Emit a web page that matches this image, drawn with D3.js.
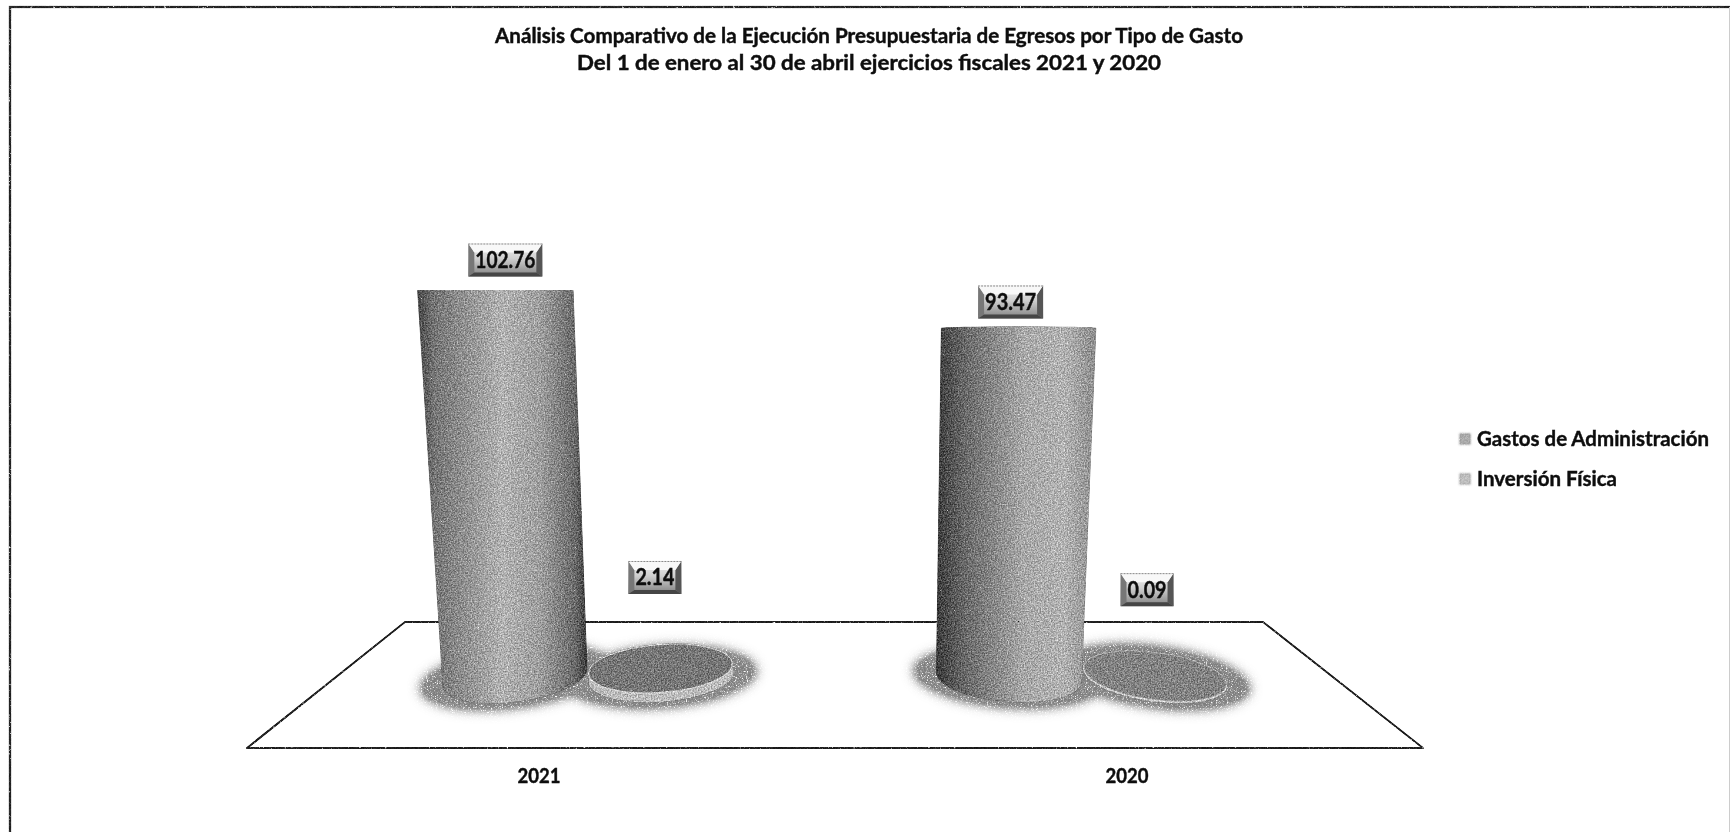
<!DOCTYPE html>
<html>
<head>
<meta charset="utf-8">
<script src="https://cdn.jsdelivr.net/npm/d3@7/dist/d3.min.js"></script>
<style>
html, body { margin: 0; padding: 0; background: #fff; overflow: hidden; }
svg { display: block; }
text { font-family: Lato, "Open Sans", sans-serif; font-weight: 700; fill: #0c0c0c; stroke: #0c0c0c; stroke-width: 0.4px; }
</style>
</head>
<body>
<div id="chart"></div>
<script>
var titleLines = [
    "Análisis Comparativo de la Ejecución Presupuestaria de Egresos por Tipo de Gasto",
    "Del 1 de enero al 30 de abril ejercicios fiscales 2021 y 2020"
];
var categories = ["2021", "2020"];
var seriesNames = ["Gastos de Administración", "Inversión Física"];
var gastosValues = [102.76, 93.47];
var inversionValues = [2.14, 0.09];

var width = 1730, height = 832;
var svg = d3.select("#chart").append("svg").attr("width", width).attr("height", height);
var defs = svg.append("defs");

// scan look: noise on the tone, a little on the alpha so the edges crumble
function grain(id, freq, amp, alphaK, alphaOff, blur) {
    var f = defs.append("filter").attr("id", id)
        .attr("x", "-15%").attr("y", "-15%").attr("width", "130%").attr("height", "130%")
        .attr("color-interpolation-filters", "sRGB");
    f.append("feTurbulence").attr("type", "fractalNoise").attr("baseFrequency", freq)
        .attr("numOctaves", 2).attr("seed", 4).attr("result", "n");
    f.append("feColorMatrix").attr("in", "n").attr("type", "matrix")
        .attr("values", "1 0 0 0 0 1 0 0 0 0 1 0 0 0 0 0 0 0 0 1").attr("result", "tone");
    f.append("feColorMatrix").attr("in", "n").attr("type", "matrix")
        .attr("values", "0 0 0 0 0 0 0 0 0 0 0 0 0 0 0 " + alphaK + " 0 0 0 " + alphaOff).attr("result", "speck");
    f.append("feGaussianBlur").attr("in", "SourceGraphic").attr("stdDeviation", blur).attr("result", "src");
    f.append("feComposite").attr("in", "src").attr("in2", "tone").attr("operator", "arithmetic")
        .attr("k1", 0).attr("k2", 1).attr("k3", amp).attr("k4", -amp / 2).attr("result", "noisy");
    f.append("feComposite").attr("in", "noisy").attr("in2", "src").attr("operator", "in").attr("result", "inside");
    f.append("feComposite").attr("in", "inside").attr("in2", "speck").attr("operator", "in");
}
grain("grainFill", 0.7, 0.7, 6, -0.6, 0.6);
grain("grainShadow", 0.8, 0.45, 3.6, -0.75, 6);
grain("grainLine", 0.45, 0.3, 4.5, -0.7, 0.4);
grain("grainSwatch", 0.6, 0.25, 4, -0.5, 0.8);

var soft = defs.append("filter").attr("id", "soft");
soft.append("feGaussianBlur").attr("stdDeviation", 0.5);

function gradient(id, stops, vertical) {
    var g = defs.append("linearGradient").attr("id", id)
        .attr("x1", 0).attr("y1", 0).attr("x2", vertical ? 0 : 1).attr("y2", vertical ? 1 : 0);
    stops.forEach(function (s) { g.append("stop").attr("offset", s[0]).attr("stop-color", s[1]); });
}
gradient("cyl0", [[0, "#444"], [0.1, "#747474"], [0.5, "#b2b2b2"], [0.72, "#9e9e9e"], [0.93, "#686868"], [1, "#363636"]]);
gradient("cyl1", [[0, "#3a3a3a"], [0.18, "#686868"], [0.55, "#a8a8a8"], [0.8, "#b2b2b2"], [1, "#8c8c8c"]]);
gradient("labelFace", [[0, "#f0f0f0"], [0.45, "#d0d0d0"], [1, "#808080"]], true);

// floor plane, perspective is taken about its centre line
var floorFront = { left: 247, right: 1423, y: 748 };
var floorBack = { left: 405, right: 1263, y: 622 };
var vanishX = (floorFront.left + floorFront.right) / 2;
var baseDepth = 0.84, baseY = 677, baseRy = 25, zeroY = 699;

var x0 = d3.scaleBand().domain(categories).range([floorFront.left, floorFront.right]);
var x1 = d3.scaleBand().domain(seriesNames).range([0, x0.bandwidth()]).paddingInner(0).paddingOuter(0.69);
var y = d3.scaleLinear().domain([0, 100]).range([0, 398]);

function screenX(frontX, h) {
    return vanishX + (frontX - vanishX) * baseDepth * (1 + 0.00015 * h);
}
function tilt(cx) { return (cx - vanishX) * 0.024; }
function ellipsePath(cx, cy, rx, ry, deg) {
    var a = deg * Math.PI / 180;
    var dx = rx * Math.cos(a), dy = rx * Math.sin(a);
    return { lx: cx - dx, ly: cy - dy, rx: cx + dx, ry: cy + dy, a: rx, b: ry, deg: deg };
}

var rows = [];
categories.forEach(function (c, i) {
    rows.push({ cat: c, catIndex: i, series: seriesNames[0], value: gastosValues[i] });
    rows.push({ cat: c, catIndex: i, series: seriesNames[1], value: inversionValues[i] });
});
rows.forEach(function (d) {
    var fx = x0(d.cat) + x1(d.series) + x1.bandwidth() / 2;
    d.h = y(d.value);
    d.cx = screenX(fx, 0);
    d.tx = screenX(fx, d.h);
    d.r = x1.bandwidth() / 2 * baseDepth;
    d.rTop = d.r * (1 + 0.00017 * d.h);
    d.topY = zeroY - d.h;
});

// page frame
var frame = svg.append("g").attr("fill", "none").attr("stroke", "#222").attr("filter", "url(#grainLine)");
frame.append("path").attr("stroke-width", 2.6).attr("d", "M10,832V7H1730");
svg.append("path").attr("d", "M1729.5,7V832").attr("stroke", "#ccc").attr("stroke-width", 1);

// title
svg.append("g").selectAll("text").data(titleLines).enter().append("text")
    .attr("x", 869).attr("y", function (d, i) { return 43 + i * 26.5; })
    .attr("text-anchor", "middle").attr("font-size", 20)
    .attr("textLength", function (d, i) { return i == 0 ? 748 : 584; })
    .attr("lengthAdjust", "spacingAndGlyphs")
    .attr("filter", "url(#soft)")
    .text(function (d) { return d; });

// floor
svg.append("path")
    .attr("d", "M" + floorFront.left + "," + floorFront.y + "L" + floorBack.left + "," + floorBack.y +
        "H" + floorBack.right + "L" + floorFront.right + "," + floorFront.y + "Z")
    .attr("fill", "none").attr("stroke", "#1c1c1c").attr("stroke-width", 2.2)
    .attr("stroke-linejoin", "round").attr("filter", "url(#grainLine)");

// shadows under every mark
svg.append("g").attr("filter", "url(#grainShadow)").selectAll("ellipse").data(rows).enter().append("ellipse")
    .attr("cx", function (d) { return d.cx; }).attr("cy", baseY)
    .attr("rx", function (d) { return d.r + 25; }).attr("ry", baseRy + 8)
    .attr("transform", function (d) { return "rotate(" + tilt(d.cx) + " " + d.cx + " " + baseY + ")"; })
    .attr("fill", "#7c7c7c");

// low disks first, columns sit over them
var disks = svg.append("g").attr("filter", "url(#grainFill)");
rows.filter(function (d) { return d.series == seriesNames[1]; }).forEach(function (d) {
    var rot = "rotate(" + tilt(d.cx) + " " + d.cx + " " + baseY + ")";
    var thick = Math.max(d.h, 1);
    var g = disks.append("g").attr("transform", rot);
    g.append("ellipse").attr("cx", d.cx).attr("cy", baseY).attr("rx", d.r).attr("ry", baseRy)
        .attr("fill", d.catIndex == 0 ? "#bcbcbc" : "#cfcfcf");
    g.append("ellipse").attr("cx", d.cx).attr("cy", baseY - thick).attr("rx", d.r - 1).attr("ry", baseRy - 1)
        .attr("fill", d.catIndex == 0 ? "#767676" : "#828282")
        .attr("stroke", "#d4d4d4").attr("stroke-width", 1.2);
});

// columns
var cols = svg.append("g").attr("filter", "url(#grainFill)");
rows.filter(function (d) { return d.series == seriesNames[0]; }).forEach(function (d) {
    var a = tilt(d.cx);
    var b = ellipsePath(d.cx, baseY, d.r, baseRy, a);
    // top flattens out as it nears eye level
    var topRy = Math.max(baseRy * (1 - d.h / 400), 0.2);
    var t = ellipsePath(d.tx, d.topY + topRy * 0.6, d.rTop, topRy, 0);
    var path = "M" + t.lx + "," + t.ly +
        "A" + t.a + "," + t.b + " 0 0 1 " + t.rx + "," + t.ry +
        "L" + b.rx + "," + b.ry +
        "A" + b.a + "," + b.b + " " + b.deg + " 0 1 " + b.lx + "," + b.ly + "Z";
    cols.append("path").attr("d", path).attr("fill", "url(#cyl" + d.catIndex + ")");
});

// data labels, bevelled boxes
var labelOffset = [[10, -30], [-6, -113], [-8, -25], [-8, -109]];
var labelWidth = [74, 53, 65, 53];
var labels = svg.append("g");
rows.forEach(function (d, i) {
    var w = labelWidth[i], h = 33;
    var lx = d.tx + labelOffset[i][0] - w / 2;
    var ly = d.topY + labelOffset[i][1] - h / 2;
    var g = labels.append("g").attr("transform", "translate(" + lx + "," + ly + ")");
    var face = g.append("g").attr("filter", "url(#soft)");
    face.append("rect").attr("width", w).attr("height", h).attr("fill", "url(#labelFace)");
    face.append("path").attr("d", "M0,0L6,9V" + (h - 4) + "L0," + h + "Z").attr("fill", "#777");
    face.append("path").attr("d", "M" + w + ",0L" + (w - 6) + ",9V" + (h - 4) + "L" + w + "," + h + "Z").attr("fill", "#555");
    face.append("path").attr("d", "M0," + h + "L6," + (h - 4) + "H" + (w - 6) + "L" + w + "," + h + "Z").attr("fill", "#444");
    face.append("path").attr("d", "M0,0L6,9H" + (w - 6) + "L" + w + ",0Z").attr("fill", "#f8f8f8");
    face.append("path").attr("d", "M0,0.5H" + w).attr("stroke", "#888").attr("stroke-dasharray", "2 1").attr("fill", "none");
    g.append("text").attr("x", w / 2).attr("y", h / 2 + 8).attr("text-anchor", "middle")
        .attr("font-size", 22).attr("filter", "url(#soft)")
        .attr("textLength", w - 14).attr("lengthAdjust", "spacingAndGlyphs")
        .text(d.value.toFixed(2));
});

// category labels
svg.append("g").selectAll("text").data(categories).enter().append("text")
    .attr("x", function (d) { return x0(d) + x0.bandwidth() / 2 - 2; }).attr("y", 783)
    .attr("text-anchor", "middle").attr("font-size", 20).attr("filter", "url(#soft)")
    .attr("textLength", 43).attr("lengthAdjust", "spacingAndGlyphs")
    .text(function (d) { return d; });

// legend
var legend = svg.append("g").selectAll("g").data(seriesNames).enter().append("g")
    .attr("transform", function (d, i) { return "translate(1459," + (433 + i * 40) + ")"; });
legend.append("rect").attr("width", 12).attr("height", 12)
    .attr("fill", function (d, i) { return i == 0 ? "#a8a8a8" : "#bcbcbc"; })
    .attr("filter", "url(#grainSwatch)");
legend.append("text").attr("x", 18).attr("y", 13).attr("font-size", 20).attr("filter", "url(#soft)")
    .attr("textLength", function (d, i) { return i == 0 ? 232 : 140; })
    .attr("lengthAdjust", "spacingAndGlyphs")
    .text(function (d) { return d; });
</script>
</body>
</html>
